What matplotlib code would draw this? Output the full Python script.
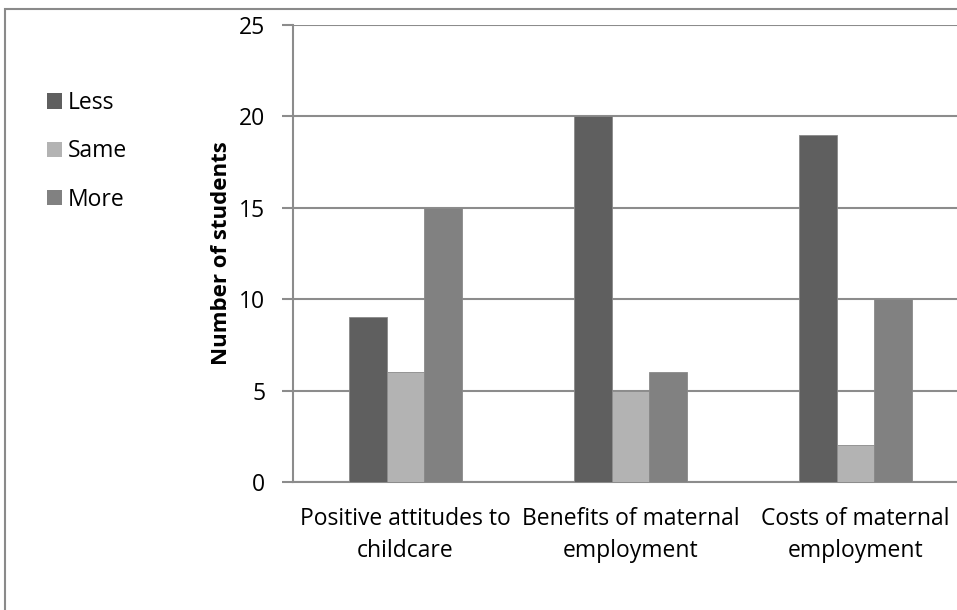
import matplotlib
matplotlib.use("Agg")
import matplotlib.pyplot as plt
from matplotlib.patches import Rectangle

categories = ["Positive attitudes to\nchildcare", "Benefits of maternal\nemployment", "Costs of maternal\nemployment"]
series_names = ["Less", "Same", "More"]
less = [9, 20, 19]
same = [6, 5, 2]
more = [15, 6, 10]
y_ticks = [0, 5, 10, 15, 20, 25]

colors = ["#5f5f5f", "#b3b3b3", "#818181"]
grid_col = "#8c8c8c"

plt.rcParams['font.family'] = ['Open Sans', 'DejaVu Sans']
FS = 16.5

W, H = 957, 610
fig = plt.figure(figsize=(W / 100, H / 100), dpi=100)

# outer chart frame (extends past the right and bottom edges)
fig.patches.append(Rectangle((5 / W, -0.05), 1.1, (H - 9) / H + 0.05,
                             transform=fig.transFigure, fill=False,
                             edgecolor="#8a8a8a", linewidth=1.5, clip_on=False))

x0, x1 = 293, 968
yb, yt = 482, 25
ax = fig.add_axes([x0 / W, (H - yb) / H, (x1 - x0) / W, (yb - yt) / H])

n = len(categories)
bw = 37.5 / 225.0
values = [less, same, more]
for i, (name, vals) in enumerate(zip(series_names, values)):
    xs = [c + (i - 1) * bw for c in range(n)]
    ax.bar(xs, vals, width=bw, color=colors[i], edgecolor="#8a8a8a",
           linewidth=0.6, label=name, zorder=3)

ax.set_xlim(-0.5, n - 0.5)
ax.set_ylim(0, 25)
ax.set_yticks(y_ticks)
ax.set_yticklabels([str(t) for t in y_ticks], fontsize=FS)
ax.set_xticks(range(n))
ax.set_xticklabels(categories, fontsize=FS, linespacing=1.47)
ax.tick_params(axis='x', length=0, pad=18)
ax.tick_params(axis='y', length=8, width=1.5, color=grid_col, pad=12)

ax.yaxis.grid(True, color=grid_col, linewidth=1.5, zorder=0)
ax.set_axisbelow(True)
for s in ["top", "right"]:
    ax.spines[s].set_visible(False)
for s in ["left", "bottom"]:
    ax.spines[s].set_color(grid_col)
    ax.spines[s].set_linewidth(1.5)

ax.set_ylabel("Number of students", fontsize=16, fontweight="bold", labelpad=5)

leg = fig.legend(loc="upper left", bbox_to_anchor=(47 / W, 1 - 91 / H),
                 frameon=False, fontsize=FS, handlelength=0.65, handleheight=0.65,
                 handletextpad=0.26, labelspacing=1.06, borderaxespad=0, borderpad=0)
for h in leg.legend_handles:
    h.set_edgecolor("none")

fig.savefig("out.png", dpi=100)
